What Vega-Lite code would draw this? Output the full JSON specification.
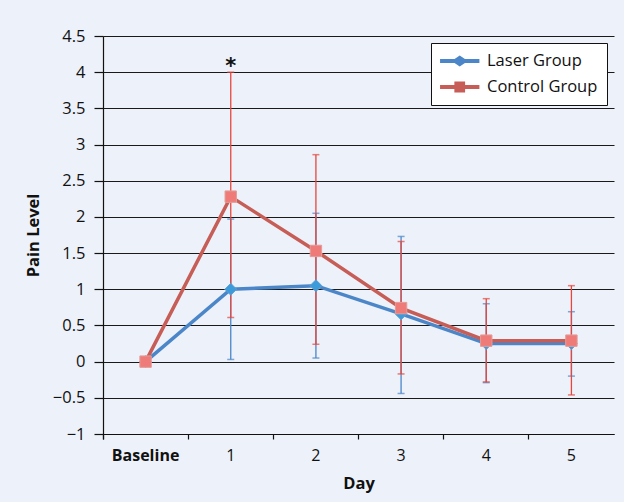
{
  "$schema": "https://vega.github.io/schema/vega-lite/v6.json",
  "width": 511,
  "height": 398,
  "autosize": "none",
  "padding": {"left": 103, "top": 36, "right": 10, "bottom": 68},
  "background": "#EDF1F9",
  "config": {
    "view": {"stroke": null},
    "font": "Open Sans",
    "axis": {"labelFont": "Open Sans", "titleFont": "Open Sans", "labelColor": "#111", "titleColor": "#111"},
    "axisY": {
      "titleFontSize": 16.5,
      "titleFontWeight": "bold",
      "titlePadding": 11,
      "labelFontSize": 16.5,
      "labelPadding": 9,
      "tickSize": 9,
      "tickColor": "#111",
      "tickWidth": 1.2,
      "domainColor": "#111",
      "domainWidth": 1.2,
      "grid": true,
      "gridColor": "#1a1a1a",
      "gridWidth": 1.2
    }
  },
  "data": {
    "values": [
      {"group": "Laser Group", "day": "Baseline", "mean": 0, "lo": null, "hi": null},
      {"group": "Laser Group", "day": "1", "mean": 1.0, "lo": 0.03, "hi": 1.97},
      {"group": "Laser Group", "day": "2", "mean": 1.05, "lo": 0.05, "hi": 2.05},
      {"group": "Laser Group", "day": "3", "mean": 0.66, "lo": -0.44, "hi": 1.73},
      {"group": "Laser Group", "day": "4", "mean": 0.25, "lo": -0.29, "hi": 0.8},
      {"group": "Laser Group", "day": "5", "mean": 0.25, "lo": -0.2, "hi": 0.69},
      {"group": "Control Group", "day": "Baseline", "mean": 0, "lo": null, "hi": null},
      {"group": "Control Group", "day": "1", "mean": 2.28, "lo": 0.61, "hi": 4.0},
      {"group": "Control Group", "day": "2", "mean": 1.53, "lo": 0.24, "hi": 2.86},
      {"group": "Control Group", "day": "3", "mean": 0.74, "lo": -0.17, "hi": 1.66},
      {"group": "Control Group", "day": "4", "mean": 0.29, "lo": -0.28, "hi": 0.87},
      {"group": "Control Group", "day": "5", "mean": 0.29, "lo": -0.46, "hi": 1.05}
    ]
  },
  "encoding": {
    "x": {
      "field": "day",
      "type": "nominal",
      "sort": ["Baseline", "1", "2", "3", "4", "5"],
      "bandPosition": 0.5,
      "scale": {"type": "band", "paddingInner": 0, "paddingOuter": 0},
      "axis": {
        "title": "Day",
        "titleFontSize": 16.5,
        "titleFontWeight": "bold",
        "titlePadding": 12,
        "labelAngle": 0,
        "labelFontSize": 16,
        "labelFontWeight": {"condition": {"test": "datum.value == 'Baseline'", "value": "bold"}, "value": "normal"},
        "labelPadding": 8,
        "domainColor": "#111",
        "domainWidth": 1.2,
        "tickColor": "#111",
        "tickSize": 5,
        "tickWidth": 1.2,
        "bandPosition": 0,
        "tickExtra": true,
        "grid": false
      }
    }
  },
  "layer": [
    {
      "transform": [{"filter": "datum.group == 'Laser Group'"}],
      "mark": {"type": "line", "color": "#4A86C8", "strokeWidth": 3.5},
      "encoding": {
        "y": {
          "field": "mean",
          "type": "quantitative",
          "scale": {"domain": [-1, 4.5], "nice": false, "zero": false},
          "axis": {"title": "Pain Level", "values": [-1, -0.5, 0, 0.5, 1, 1.5, 2, 2.5, 3, 3.5, 4, 4.5], "format": ".1~f"}
        }
      }
    },
    {
      "transform": [{"filter": "datum.group == 'Control Group'"}],
      "mark": {"type": "line", "color": "#C65D56", "strokeWidth": 3.5},
      "encoding": {
        "y": {"field": "mean", "type": "quantitative", "axis": {"title": "Pain Level", "values": [-1, -0.5, 0, 0.5, 1, 1.5, 2, 2.5, 3, 3.5, 4, 4.5], "format": ".1~f"}}
      }
    },
    {
      "transform": [{"filter": "datum.group == 'Laser Group' && datum.lo != null"}],
      "mark": {"type": "rule", "color": "#4A86C8", "strokeWidth": 1.3},
      "encoding": {
        "y": {"field": "lo", "type": "quantitative", "axis": {"title": "Pain Level", "values": [-1, -0.5, 0, 0.5, 1, 1.5, 2, 2.5, 3, 3.5, 4, 4.5], "format": ".1~f"}},
        "y2": {"field": "hi"}
      }
    },
    {
      "transform": [{"filter": "datum.group == 'Laser Group' && datum.lo != null"}, {"fold": ["lo", "hi"], "as": ["end", "val"]}],
      "mark": {"type": "tick", "orient": "horizontal", "color": "#4A86C8", "size": 7, "thickness": 1.5},
      "encoding": {
        "y": {"field": "val", "type": "quantitative", "axis": {"title": "Pain Level", "values": [-1, -0.5, 0, 0.5, 1, 1.5, 2, 2.5, 3, 3.5, 4, 4.5], "format": ".1~f"}}
      }
    },
    {
      "transform": [{"filter": "datum.group == 'Control Group' && datum.lo != null"}],
      "mark": {"type": "rule", "color": "#E5473D", "strokeWidth": 1.3},
      "encoding": {
        "y": {"field": "lo", "type": "quantitative", "axis": {"title": "Pain Level", "values": [-1, -0.5, 0, 0.5, 1, 1.5, 2, 2.5, 3, 3.5, 4, 4.5], "format": ".1~f"}},
        "y2": {"field": "hi"}
      }
    },
    {
      "transform": [{"filter": "datum.group == 'Control Group' && datum.lo != null"}, {"fold": ["lo", "hi"], "as": ["end", "val"]}],
      "mark": {"type": "tick", "orient": "horizontal", "color": "#E5473D", "size": 7, "thickness": 1.5},
      "encoding": {
        "y": {"field": "val", "type": "quantitative", "axis": {"title": "Pain Level", "values": [-1, -0.5, 0, 0.5, 1, 1.5, 2, 2.5, 3, 3.5, 4, 4.5], "format": ".1~f"}}
      }
    },
    {
      "transform": [{"filter": "datum.group == 'Laser Group'"}],
      "mark": {"type": "point", "shape": "diamond", "filled": true, "size": 140, "fill": "#3E9BDA", "stroke": "#5C9FD6", "strokeWidth": 1, "opacity": 1},
      "encoding": {
        "y": {"field": "mean", "type": "quantitative", "axis": {"title": "Pain Level", "values": [-1, -0.5, 0, 0.5, 1, 1.5, 2, 2.5, 3, 3.5, 4, 4.5], "format": ".1~f"}}
      }
    },
    {
      "transform": [{"filter": "datum.group == 'Control Group'"}],
      "mark": {"type": "point", "shape": "square", "filled": true, "size": 130, "fill": "#EF7B78", "stroke": "#E39C98", "strokeWidth": 1, "opacity": 1},
      "encoding": {
        "y": {"field": "mean", "type": "quantitative", "axis": {"title": "Pain Level", "values": [-1, -0.5, 0, 0.5, 1, 1.5, 2, 2.5, 3, 3.5, 4, 4.5], "format": ".1~f"}}
      }
    },
    {
      "transform": [{"filter": "datum.mean > 100"}],
      "mark": {"type": "point", "filled": true, "opacity": 1},
      "encoding": {
        "y": {"field": "mean", "type": "quantitative", "axis": {"title": "Pain Level", "values": [-1, -0.5, 0, 0.5, 1, 1.5, 2, 2.5, 3, 3.5, 4, 4.5], "format": ".1~f"}},
        "color": {
          "field": "group",
          "type": "nominal",
          "scale": {"domain": ["Laser Group", "Control Group"], "range": ["#4A86C8", "#C65D56"]},
          "legend": {
            "title": null,
            "orient": "top-right",
            "offset": 7,
            "strokeColor": "#111",
            "fillColor": "#ffffff",
            "padding": 9,
            "cornerRadius": 0,
            "labelFontSize": 16.5,
            "labelFont": "Open Sans",
            "labelColor": "#111",
            "labelOffset": 29,
            "rowPadding": 8,
            "symbolSize": 320,
            "symbolStrokeWidth": 0,
            "symbolOpacity": 1
          }
        },
        "shape": {
          "field": "group",
          "type": "nominal",
          "scale": {
            "domain": ["Laser Group", "Control Group"],
            "range": [
              "M-1,-0.22 L0.62,-0.22 L1.2,-0.62 L1.78,-0.22 L3.4,-0.22 L3.4,0.22 L1.78,0.22 L1.2,0.62 L0.62,0.22 L-1,0.22 Z",
              "M-1,-0.22 L0.6,-0.22 L0.6,-0.62 L1.8,-0.62 L1.8,-0.22 L3.4,-0.22 L3.4,0.22 L1.8,0.22 L1.8,0.62 L0.6,0.62 L0.6,0.22 L-1,0.22 Z"
            ]
          }
        }
      }
    },
    {
      "data": {"values": [{"day": "1", "y": 4.0, "label": "*"}]},
      "mark": {"type": "text", "fontSize": 21, "font": "DejaVu Sans", "fontWeight": "bold", "baseline": "middle", "dy": -5, "color": "#111"},
      "encoding": {
        "y": {"field": "y", "type": "quantitative", "axis": {"title": "Pain Level", "values": [-1, -0.5, 0, 0.5, 1, 1.5, 2, 2.5, 3, 3.5, 4, 4.5], "format": ".1~f"}},
        "text": {"field": "label"}
      }
    }
  ]
}
